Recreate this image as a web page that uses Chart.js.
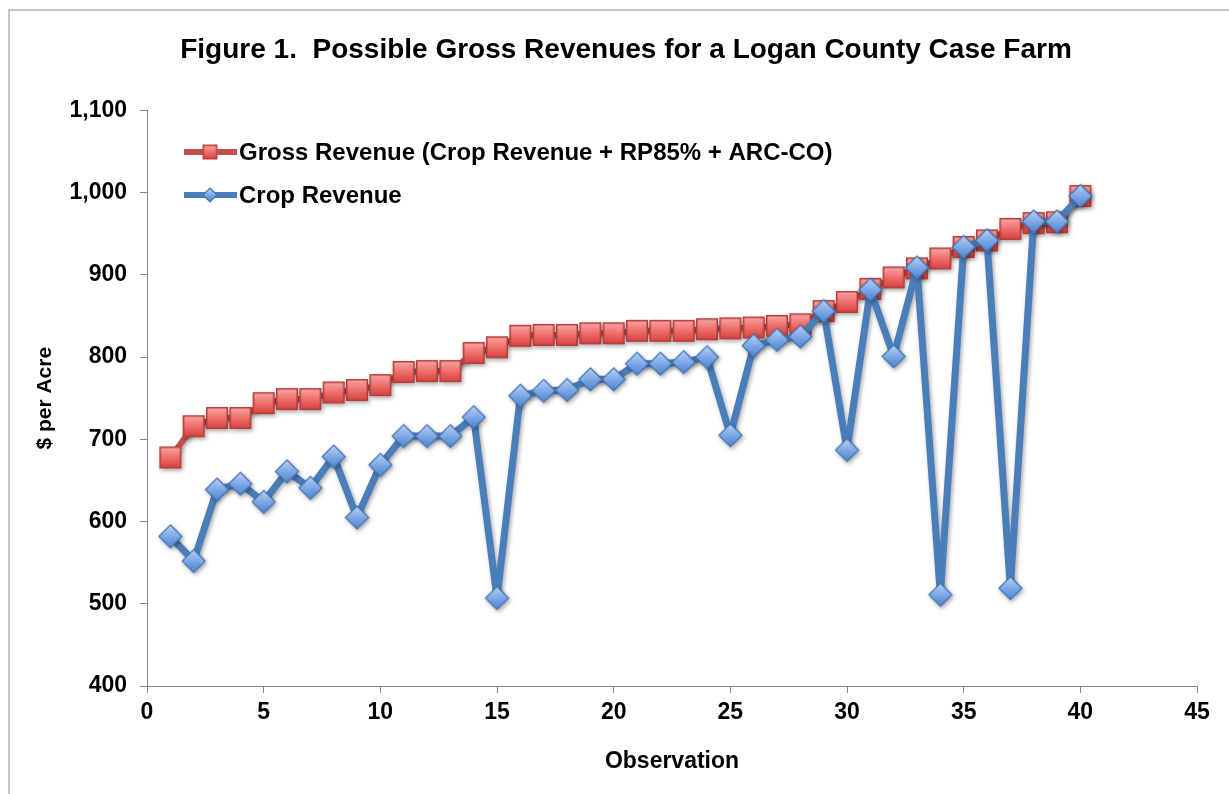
<!DOCTYPE html>
<html>
<head>
<meta charset="utf-8">
<script src="https://cdn.jsdelivr.net/npm/chart.js@4.4.1/dist/chart.umd.min.js"></script>
<style>
  html, body { margin: 0; padding: 0; background: #ffffff; overflow: hidden; }
  #wrap { position: relative; width: 1229px; height: 794px; overflow: hidden; }
  #frame { position: absolute; left: 8px; top: 9px; width: 1240px; height: 820px; border: 2px solid #C3C3C3; box-sizing: border-box; }
  #c { position: absolute; left: 0; top: 0; }
</style>
</head>
<body>
<div id="wrap">
  <div id="frame"></div>
  <canvas id="c" width="1229" height="794"></canvas>
</div>
<script>
const chartTitle = 'Figure 1.  Possible Gross Revenues for a Logan County Case Farm';
const xAxisTitle = 'Observation';
const yAxisTitle = '$ per Acre';
const seriesNames = ['Gross Revenue (Crop Revenue + RP85% + ARC-CO)', 'Crop Revenue'];

const observations = [1, 2, 3, 4, 5, 6, 7, 8, 9, 10,
  11, 12, 13, 14, 15, 16, 17, 18, 19, 20,
  21, 22, 23, 24, 25, 26, 27, 28, 29, 30,
  31, 32, 33, 34, 35, 36, 37, 38, 39, 40];

const grossRevenue = [678, 716, 726, 726, 744, 749, 749, 757, 760, 766,
  782, 783, 783, 805, 812, 826, 827, 827, 829, 829,
  832, 832, 832, 834, 835, 836, 838, 840, 856, 867,
  883, 897, 908, 920, 934, 942, 956, 963, 964, 996];

const cropRevenue = [582, 552, 639, 646, 624, 661, 641, 679, 605, 669,
  704, 704, 704, 727, 507, 753, 759, 760, 773, 773,
  792, 792, 794, 800, 705, 814, 821, 825, 856, 687,
  882, 801, 909, 511, 934, 942, 519, 965, 965, 996];

const xTickValues = [0, 5, 10, 15, 20, 25, 30, 35, 40, 45];
const yTickValues = [400, 500, 600, 700, 800, 900, 1000, 1100];

const FONT = '"Liberation Sans", Arial, Helvetica, sans-serif';
const axisGray = '#868686';
const redLine = '#C0504D';
const blueLine = '#4A7EBB';

function makeSquare(side) {
  const pad = 2;
  const cv = document.createElement('canvas');
  cv.width = side + pad * 2; cv.height = side + pad * 2;
  const g = cv.getContext('2d');
  const grd = g.createLinearGradient(0, pad, 0, pad + side);
  grd.addColorStop(0, '#FBA9A8');
  grd.addColorStop(0.5, '#EE6F6C');
  grd.addColorStop(1, '#D43F3C');
  g.fillStyle = grd;
  g.fillRect(pad, pad, side, side);
  g.strokeStyle = '#B83D3A';
  g.lineWidth = 1.5;
  g.strokeRect(pad + 0.75, pad + 0.75, side - 1.5, side - 1.5);
  return cv;
}
function makeDiamond(w) {
  const pad = 2;
  const cv = document.createElement('canvas');
  cv.width = w + pad * 2; cv.height = w + pad * 2;
  const g = cv.getContext('2d');
  const c = pad + w / 2, r = w / 2;
  const grd = g.createLinearGradient(0, pad, 0, pad + w);
  grd.addColorStop(0, '#B9D1F4');
  grd.addColorStop(0.5, '#7FA9E6');
  grd.addColorStop(1, '#4D82CF');
  g.beginPath();
  g.moveTo(c, c - r); g.lineTo(c + r, c); g.lineTo(c, c + r); g.lineTo(c - r, c); g.closePath();
  g.fillStyle = grd; g.fill();
  g.strokeStyle = '#4274B4'; g.lineWidth = 1.2; g.stroke();
  return cv;
}
const sqBig = makeSquare(22), sqSmall = makeSquare(15);
const dmBig = makeDiamond(23), dmSmall = makeDiamond(14);

const shadowPlugin = {
  id: 'shadow',
  beforeDatasetDraw(chart) {
    const ctx = chart.ctx;
    ctx.save();
    ctx.shadowColor = 'rgba(0,0,0,0.35)';
    ctx.shadowBlur = 4;
    ctx.shadowOffsetX = 1.5;
    ctx.shadowOffsetY = 2;
  },
  afterDatasetDraw(chart) { chart.ctx.restore(); }
};

const titleLegendPlugin = {
  id: 'titleAndLegend',
  afterDraw(chart) {
    const ctx = chart.ctx;
    ctx.save();
    ctx.fillStyle = '#000000';
    ctx.font = 'bold 28px ' + FONT;
    ctx.textAlign = 'center';
    ctx.textBaseline = 'alphabetic';
    ctx.fillText(chartTitle, 626, 58);
    ctx.restore();

    const items = [
      { y: 152, color: redLine, img: sqSmall, text: seriesNames[0] },
      { y: 195, color: blueLine, img: dmSmall, text: seriesNames[1] }
    ];
    items.forEach(it => {
      ctx.save();
      ctx.strokeStyle = it.color;
      ctx.lineWidth = 6;
      ctx.beginPath(); ctx.moveTo(184, it.y); ctx.lineTo(237, it.y); ctx.stroke();
      ctx.drawImage(it.img, 210 - it.img.width / 2, it.y - it.img.height / 2);
      ctx.fillStyle = '#000000';
      ctx.font = 'bold 24px ' + FONT;
      ctx.textBaseline = 'middle';
      ctx.textAlign = 'left';
      ctx.fillText(it.text, 239, it.y + 1);
      ctx.restore();
    });
  }
};

new Chart(document.getElementById('c'), {
  type: 'line',
  data: {
    datasets: [
      {
        label: seriesNames[0],
        data: observations.map((x, i) => ({ x: x, y: grossRevenue[i] })),
        borderColor: redLine,
        borderWidth: 6,
        borderJoinStyle: 'round',
        borderCapStyle: 'round',
        pointStyle: sqBig,
        pointRadius: 11,
        pointHoverRadius: 11,
        tension: 0,
        order: 2
      },
      {
        label: seriesNames[1],
        data: observations.map((x, i) => ({ x: x, y: cropRevenue[i] })),
        borderColor: blueLine,
        borderWidth: 7,
        borderJoinStyle: 'round',
        borderCapStyle: 'round',
        pointStyle: dmBig,
        pointRadius: 11,
        pointHoverRadius: 11,
        tension: 0,
        order: 1
      }
    ]
  },
  options: {
    responsive: false,
    animation: false,
    devicePixelRatio: 1,
    layout: { padding: { left: 0, right: 32, top: 110.5, bottom: 0 } },
    plugins: {
      legend: { display: false },
      tooltip: { enabled: false },
      title: { display: false }
    },
    scales: {
      x: {
        type: 'linear',
        min: 0, max: 45,
        afterBuildTicks(scale) { scale.ticks = xTickValues.map(v => ({ value: v })); },
        afterFit(scale) { scale.height = 108; },
        grid: { drawOnChartArea: false, drawTicks: true, tickLength: 7, tickColor: axisGray },
        border: { display: true, color: axisGray, width: 1 },
        ticks: { color: '#000000', padding: 6, font: { family: FONT, size: 23, weight: 'bold' }, maxRotation: 0 },
        title: {
          display: true, text: xAxisTitle, color: '#000000',
          font: { family: FONT, size: 23, weight: 'bold' },
          padding: { top: 0, bottom: 19 }
        }
      },
      y: {
        type: 'linear',
        min: 400, max: 1100,
        afterBuildTicks(scale) { scale.ticks = yTickValues.map(v => ({ value: v })); },
        afterFit(scale) { scale.width = 147; },
        grid: { drawOnChartArea: false, drawTicks: true, tickLength: 7, tickColor: axisGray },
        border: { display: true, color: axisGray, width: 1 },
        ticks: {
          color: '#000000', padding: 13,
          font: { family: FONT, size: 23, weight: 'bold' },
          callback: v => v.toLocaleString('en-US')
        },
        title: {
          display: true, text: yAxisTitle, color: '#000000',
          font: { family: FONT, size: 21, weight: 'bold' },
          padding: { top: 33, bottom: 0 }
        }
      }
    }
  },
  plugins: [shadowPlugin, titleLegendPlugin]
});
</script>
</body>
</html>
